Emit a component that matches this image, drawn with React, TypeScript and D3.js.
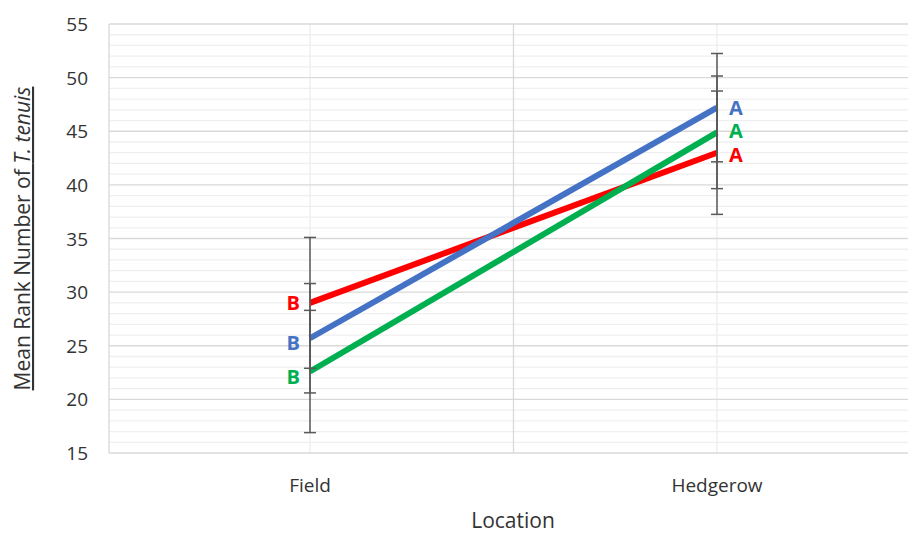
import React from "react";
import * as d3 from "d3";

const categories = ["Field", "Hedgerow"];
const seriesNames = ["Red", "Green", "Blue"];
const seriesColors = ["#ff0000", "#00b050", "#4472c4"];
const redValues = [29.0, 43.0];
const greenValues = [22.6, 44.9];
const blueValues = [25.7, 47.2];
const redErrors = [6.1, 5.75];
const greenErrors = [5.7, 5.25];
const blueErrors = [5.1, 5.05];
const fieldLetters = ["B", "B", "B"];
const hedgerowLetters = ["A", "A", "A"];
const yTicks = [15, 20, 25, 30, 35, 40, 45, 50, 55];

const W = 908;
const H = 535;
const plotLeft = 109;
const plotRight = 921;
const plotTop = 24;
const plotBottom = 453;
// small vertical nudges for the letter labels (pixels), per series order
const fieldLabelDy = [0, 5, 4];
const hedgerowLabelDy = [2, -2, 0];

export default function App() {
  const y = d3.scaleLinear().domain([15, 55]).range([plotBottom, plotTop]);
  const x = d3.scalePoint<string>().domain(categories).range([310, 717]);
  const step = x(categories[1])! - x(categories[0])!;

  const series = [
    { name: seriesNames[0], color: seriesColors[0], values: redValues, errors: redErrors },
    { name: seriesNames[1], color: seriesColors[1], values: greenValues, errors: greenErrors },
    { name: seriesNames[2], color: seriesColors[2], values: blueValues, errors: blueErrors },
  ];

  const minorTicks = d3.range(15, 56, 1).filter((v) => v % 5 !== 0);
  const majorVX = [plotLeft, (x(categories[0])! + x(categories[1])!) / 2, x(categories[1])! + step / 2];
  const minorVX = categories.map((c) => x(c)!);

  const line = d3
    .line<{ c: string; v: number }>()
    .x((d) => x(d.c)!)
    .y((d) => y(d.v));

  const font = "'Open Sans', 'Liberation Sans', sans-serif";
  const textColor = "#333333";

  return (
    <svg
      width={W}
      height={H}
      style={{ position: "absolute", left: 0, top: 0, background: "#fff" }}
    >
      <rect x={0} y={0} width={W} height={H} fill="#fff" />
      {minorTicks.map((v) => (
        <line key={"mh" + v} x1={plotLeft} x2={plotRight} y1={y(v)} y2={y(v)} stroke="#efefef" strokeWidth={1.3} />
      ))}
      {minorVX.map((vx, i) => (
        <line key={"mv" + i} x1={vx} x2={vx} y1={plotTop} y2={plotBottom} stroke="#efefef" strokeWidth={1.5} />
      ))}
      {yTicks.map((v) => (
        <line key={"h" + v} x1={plotLeft} x2={plotRight} y1={y(v)} y2={y(v)} stroke="#d9d9d9" strokeWidth={1.3} />
      ))}
      {majorVX.map((vx, i) => (
        <line key={"v" + i} x1={vx} x2={vx} y1={plotTop} y2={plotBottom} stroke="#d9d9d9" strokeWidth={1.3} />
      ))}

      {yTicks.map((v) => (
        <text
          key={"yt" + v}
          x={88}
          y={y(v)}
          textAnchor="end"
          dominantBaseline="central"
          fontFamily={font}
          fontSize={19}
          fill={textColor}
        >
          {v}
        </text>
      ))}

      {categories.map((c) => (
        <text
          key={"xt" + c}
          x={x(c)!}
          y={492}
          textAnchor="middle"
          fontFamily={font}
          fontSize={19}
          fill={textColor}
        >
          {c}
        </text>
      ))}

      <text x={513} y={528} textAnchor="middle" fontFamily={font} fontSize={21} fill={textColor}>
        Location
      </text>
      <text
        transform={`translate(30,${(plotTop + plotBottom) / 2}) rotate(-90)`}
        textAnchor="middle"
        fontFamily={font}
        fontSize={21}
        fill={textColor}
        style={{ textDecoration: "underline" }}
      >
        Mean Rank Number of <tspan fontStyle="italic">T. tenuis</tspan>
      </text>

      {series.map((s) => (
        <path
          key={"l" + s.name}
          d={line(categories.map((c, i) => ({ c, v: s.values[i] })))!}
          fill="none"
          stroke={s.color}
          strokeWidth={6}
        />
      ))}

      {series.map((s) =>
        categories.map((c, i) => {
          const cx = x(c)!;
          const top = y(s.values[i] + s.errors[i]);
          const bot = y(s.values[i] - s.errors[i]);
          return (
            <g key={"e" + s.name + c} stroke="#595959" strokeWidth={1.5}>
              <line x1={cx} x2={cx} y1={top} y2={bot} />
              <line x1={cx - 6} x2={cx + 6} y1={top} y2={top} />
              <line x1={cx - 6} x2={cx + 6} y1={bot} y2={bot} />
            </g>
          );
        })
      )}

      {series.map((s, si) => (
        <g key={"lab" + s.name} fontFamily={font} fontSize={20} fontWeight="bold" fill={s.color}>
          <text
            x={x(categories[0])! - 10}
            y={y(s.values[0]) + fieldLabelDy[si]}
            textAnchor="end"
            dominantBaseline="central"
          >
            {fieldLetters[si]}
          </text>
          <text
            x={x(categories[1])! + 12}
            y={y(s.values[1]) + hedgerowLabelDy[si]}
            textAnchor="start"
            dominantBaseline="central"
          >
            {hedgerowLetters[si]}
          </text>
        </g>
      ))}
    </svg>
  );
}
